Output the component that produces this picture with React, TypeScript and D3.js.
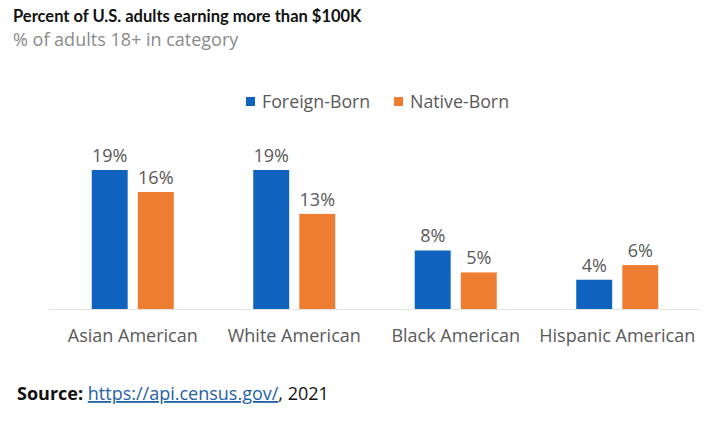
import { useEffect, useRef } from 'react';
import * as d3 from 'd3';

const categories = ['Asian American', 'White American', 'Black American', 'Hispanic American'];
const seriesNames = ['Foreign-Born', 'Native-Born'];
const foreignBorn = [19, 19, 8, 4];
const nativeBorn = [16, 13, 5, 6];

const WIDTH = 720;
const HEIGHT = 422;
const COLORS = ['#0f63bf', '#ee7d31'];
const TITLE_FONT = 'Lato, "Open Sans", sans-serif';
const FONT = '"Open Sans", Lato, sans-serif';

export default function App() {
  const svgRef = useRef<SVGSVGElement>(null);

  useEffect(() => {
    if (!svgRef.current) return;
    const svg = d3.select(svgRef.current);
    svg.selectAll('*').remove();

    const baseline = 309;

    // Category bands, then a sub-band for the two series
    const x0 = d3.scaleBand<string>().domain(categories).range([52, 698]);
    const x1 = d3
      .scaleBand<string>()
      .domain(seriesNames)
      .range([0, 82])
      .paddingInner(0.22);
    const y = d3.scaleLinear().domain([0, 19]).range([baseline, 170]);

    // Title block
    svg
      .append('text')
      .attr('x', 13)
      .attr('y', 22)
      .attr('font-family', TITLE_FONT)
      .attr('font-size', 16.5)
      .attr('font-weight', 'bold')
      .attr('fill', '#111')
      .text('Percent of U.S. adults earning more than $100K');

    svg
      .append('text')
      .attr('x', 13)
      .attr('y', 46)
      .attr('font-size', 18)
      .attr('fill', '#8a8a8a')
      .text('% of adults 18+ in category');

    // Legend
    const legend = svg.append('g').attr('transform', 'translate(246,102)');
    const legendX = [0, 148];
    seriesNames.forEach((name, i) => {
      legend
        .append('rect')
        .attr('x', legendX[i])
        .attr('y', -5)
        .attr('width', 9)
        .attr('height', 9)
        .attr('fill', COLORS[i]);
      legend
        .append('text')
        .attr('x', legendX[i] + 16)
        .attr('y', 6)
        .attr('font-size', 17.8)
        .attr('fill', '#595959')
        .text(name);
    });

    // Baseline
    svg
      .append('line')
      .attr('x1', 50)
      .attr('x2', 700)
      .attr('y1', baseline + 0.5)
      .attr('y2', baseline + 0.5)
      .attr('stroke', '#e3e3e3')
      .attr('stroke-width', 1);

    const rows = categories.map((c, i) => ({
      category: c,
      values: [foreignBorn[i], nativeBorn[i]],
    }));

    const groups = svg
      .selectAll('g.group')
      .data(rows)
      .join('g')
      .attr('class', 'group')
      .attr('transform', (d) => `translate(${x0(d.category)! + (x0.bandwidth() - 82) / 2},0)`);

    groups.each(function (d) {
      const g = d3.select(this);
      d.values.forEach((v, i) => {
        const bx = x1(seriesNames[i])!;
        g.append('rect')
          .attr('x', bx)
          .attr('y', y(v))
          .attr('width', x1.bandwidth())
          .attr('height', baseline - y(v))
          .attr('fill', COLORS[i]);
        g.append('text')
          .attr('x', bx + x1.bandwidth() / 2)
          .attr('y', y(v) - 8)
          .attr('text-anchor', 'middle')
          .attr('font-size', 18)
          .attr('fill', '#595959')
          .text(`${v}%`);
      });
      g.append('text')
        .attr('x', 41)
        .attr('y', 342)
        .attr('text-anchor', 'middle')
        .attr('font-size', 18)
        .attr('fill', '#595959')
        .text(d.category);
    });

    // Source line
    const source = svg
      .append('text')
      .attr('x', 17)
      .attr('y', 400)
      .attr('font-size', 18)
      .attr('fill', '#111');
    source.append('tspan').attr('font-weight', 'bold').text('Source: ');
    source
      .append('tspan')
      .attr('fill', '#1f5fa8')
      .attr('text-decoration', 'underline')
      .text('https://api.census.gov/');
    source.append('tspan').text(', 2021');
  }, []);

  return (
    <svg
      ref={svgRef}
      width={WIDTH}
      height={HEIGHT}
      style={{ display: 'block', margin: -8, background: '#fff', fontFamily: FONT }}
    />
  );
}
